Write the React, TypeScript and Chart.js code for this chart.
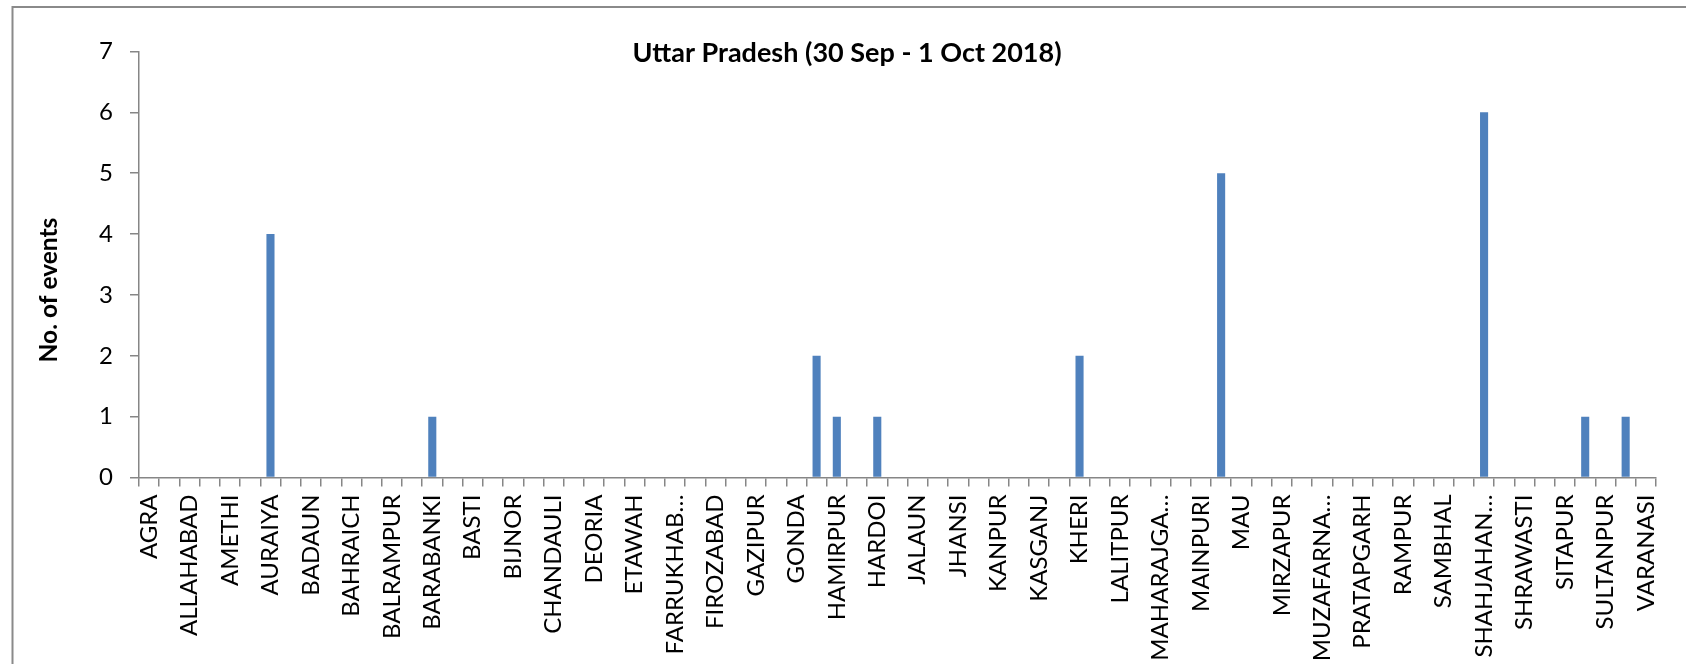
import React, { useEffect, useRef } from "react";
import { Chart, registerables } from "chart.js";

Chart.register(...registerables);

const districts = [
  "AGRA", "ALIGARH", "ALLAHABAD", "AMBEDKAR NAGAR", "AMETHI", "AMROHA", "AURAIYA", "AZAMGARH",
  "BADAUN", "BAGHPAT", "BAHRAICH", "BALLIA", "BALRAMPUR", "BANDA", "BARABANKI", "BAREILLY",
  "BASTI", "BHADOHI", "BIJNOR", "BULANDSHAHR", "CHANDAULI", "CHITRAKOOT", "DEORIA", "ETAH",
  "ETAWAH", "FAIZABAD", "FARRUKHABAD", "FATEHPUR", "FIROZABAD", "GAUTAM BUDDHA NAGAR", "GAZIPUR", "GHAZIABAD",
  "GONDA", "GORAKHPUR", "HAMIRPUR", "HAPUR", "HARDOI", "HATHRAS", "JALAUN", "JAUNPUR",
  "JHANSI", "KANNAUJ", "KANPUR", "KANPUR DEHAT", "KASGANJ", "KAUSHAMBI", "KHERI", "KUSHINAGAR",
  "LALITPUR", "LUCKNOW", "MAHARAJGANJ", "MAHOBA", "MAINPURI", "MATHURA", "MAU", "MEERUT",
  "MIRZAPUR", "MORADABAD", "MUZAFARNAGAR", "PILIBHIT", "PRATAPGARH", "RAEBARELI", "RAMPUR", "SAHARANPUR",
  "SAMBHAL", "SANT KABIR NAGAR", "SHAHJAHANPUR", "SHAMLI", "SHRAWASTI", "SIDDHARTHNAGAR", "SITAPUR", "SONBHADRA",
  "SULTANPUR", "UNNAO", "VARANASI",
];

const events = [
  0, 0, 0, 0, 0, 0, 4, 0,
  0, 0, 0, 0, 0, 0, 1, 0,
  0, 0, 0, 0, 0, 0, 0, 0,
  0, 0, 0, 0, 0, 0, 0, 0,
  0, 2, 1, 0, 1, 0, 0, 0,
  0, 0, 0, 0, 0, 0, 2, 0,
  0, 0, 0, 0, 0, 5, 0, 0,
  0, 0, 0, 0, 0, 0, 0, 0,
  0, 0, 6, 0, 0, 0, 0, 1,
  0, 1, 0,
];

const yTicks = [0, 1, 2, 3, 4, 5, 6, 7];

const chartTitle = "Uttar Pradesh (30 Sep - 1 Oct 2018)";
const yTitle = "No. of events";

const FONT = "Lato, 'Noto Sans', sans-serif";
const AXIS_COLOR = "#868686";

const decorPlugin = {
  id: "decor",
  beforeDraw(chart: any) {
    const ctx = chart.ctx;
    ctx.save();
    ctx.fillStyle = "#ffffff";
    ctx.fillRect(0, 0, chart.width, chart.height);
    ctx.strokeStyle = "#8a8a8a";
    ctx.lineWidth = 2;
    ctx.beginPath();
    ctx.moveTo(12.5, chart.height + 2);
    ctx.lineTo(12.5, 7);
    ctx.lineTo(chart.width + 2, 7);
    ctx.stroke();
    ctx.restore();
  },
  afterDraw(chart: any) {
    const ctx = chart.ctx;
    ctx.save();
    ctx.fillStyle = "#000000";
    ctx.textAlign = "center";
    ctx.textBaseline = "middle";
    ctx.font = `bold 27px ${FONT}`;
    ctx.fillText(chartTitle, 847, 53);
    ctx.font = `bold 24.5px ${FONT}`;
    ctx.translate(49, 290);
    ctx.rotate(-Math.PI / 2);
    ctx.fillText(yTitle, 0, 0);
    ctx.restore();
  },
};

export default function App() {
  const ref = useRef<HTMLCanvasElement | null>(null);

  useEffect(() => {
    if (!ref.current) return;
    const chart = new Chart(ref.current, {
      type: "bar",
      data: {
        labels: districts,
        datasets: [
          {
            data: events,
            backgroundColor: "#4F81BD",
            borderWidth: 0,
            barPercentage: 0.4,
            categoryPercentage: 1,
          },
        ],
      },
      options: {
        animation: false,
        responsive: true,
        maintainAspectRatio: false,
        layout: { padding: { left: 0, right: 30, top: 51.5, bottom: 0 } },
        plugins: {
          legend: { display: false },
          title: { display: false },
          tooltip: { enabled: false },
        },
        scales: {
          x: {
            afterFit(scale: any) {
              scale.height = 664 - 477.5;
            },
            grid: {
              display: true,
              offset: true,
              drawOnChartArea: false,
              drawTicks: true,
              tickLength: 9,
              color: AXIS_COLOR,
              lineWidth: 1.5,
            },
            border: { display: true, color: AXIS_COLOR, width: 1.5 },
            ticks: {
              autoSkip: false,
              minRotation: 90,
              maxRotation: 90,
              padding: 8,
              color: "#000000",
              font: { family: FONT, size: 24 },
              callback(value: any, index: number) {
                if (index % 2 !== 0) return "";
                const name = districts[index];
                return name.length > 10 ? name.slice(0, 9) + "…" : name;
              },
            },
          },
          y: {
            min: 0,
            max: 7,
            afterFit(scale: any) {
              scale.width = 139;
            },
            afterBuildTicks(scale: any) {
              scale.ticks = yTicks.map((v) => ({ value: v }));
            },
            grid: {
              display: true,
              drawOnChartArea: false,
              drawTicks: true,
              tickLength: 9,
              color: AXIS_COLOR,
              lineWidth: 1.5,
            },
            border: { display: true, color: AXIS_COLOR, width: 1.5 },
            ticks: {
              stepSize: 1,
              padding: 17,
              color: "#000000",
              font: { family: FONT, size: 24 },
            },
          },
        },
      },
      plugins: [decorPlugin],
    });
    return () => chart.destroy();
  }, []);

  return (
    <div style={{ position: "fixed", left: 0, top: 0, width: 1686, height: 664, background: "#fff" }}>
      <canvas ref={ref} />
    </div>
  );
}
